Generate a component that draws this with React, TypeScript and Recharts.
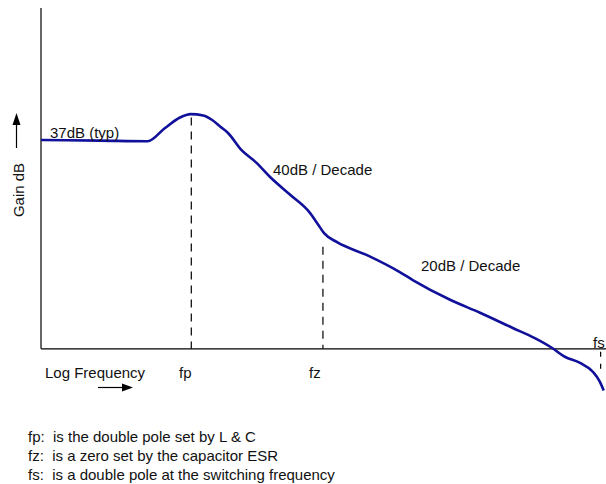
import React from 'react';
import { LineChart, Line, XAxis, YAxis, ReferenceLine } from 'recharts';

// log frequency position (0..100 across the axis) and gain in dB
const logFreq = [0, 10.4, 18.9, 21.9, 24.6, 26.5, 28.7, 30.3, 31.7, 33.1, 35.5, 38.1, 40.5, 44.1, 47.6, 49.0, 50.1, 52.4, 57.7, 63.5, 65.8, 72.4, 77.7, 83.5, 87.4, 90.4, 92.7, 95.4, 97.7, 98.9, 99.6];
const gainDb = [37.0, 36.9, 36.8, 39.1, 41.0, 41.6, 41.35, 40.55, 39.4, 38.25, 35.2, 33.0, 30.5, 27.3, 24.1, 22.1, 20.5, 18.9, 16.6, 13.6, 12.2, 8.7, 6.4, 3.7, 1.9, 0.2, -1.4, -2.5, -4.1, -5.8, -7.4];

// break points marked on the frequency axis
const fpPos = 26.6;
const fpGain = 41.0;
const fzPos = 49.9;
const fzGain = 18.1;
const fsPos = 99.05;

const footnotes = [
  'fp:  is the double pole set by L & C',
  'fz:  is a zero set by the capacitor ESR',
  'fs:  is a double pole at the switching frequency',
];

const data = logFreq.map((f, i) => ({ f, gain: gainDb[i] }));

const FONT = '"Liberation Sans", Arial, sans-serif';
const CURVE = '#10109a';

export default function App() {
  return (
    <div style={{ position: 'absolute', left: 0, top: 0, width: 606, height: 484, background: '#fff' }}>
      <LineChart width={606} height={484} data={data} margin={{ top: 8, right: 0, bottom: 90, left: 41 }}>
        <XAxis type="number" dataKey="f" domain={[0, 100]} hide />
        <YAxis type="number" domain={[-8, 60.4]} hide />
        <ReferenceLine segment={[{ x: 0, y: 60.4 }, { x: 0, y: 0 }]} stroke="#000" strokeWidth={1.2} />
        <ReferenceLine y={0} stroke="#000" strokeWidth={1.2} />
        <ReferenceLine segment={[{ x: fpPos, y: fpGain }, { x: fpPos, y: 0 }]} stroke="#000" strokeDasharray="8 6" strokeWidth={1.2} />
        <ReferenceLine segment={[{ x: fzPos, y: fzGain }, { x: fzPos, y: 0 }]} stroke="#000" strokeDasharray="8 6" strokeWidth={1.2} />
        <ReferenceLine segment={[{ x: fsPos, y: -0.5 }, { x: fsPos, y: -3.8 }]} stroke="#000" strokeDasharray="5 7" strokeWidth={1.2} />
        <Line
          type="monotone"
          dataKey="gain"
          stroke={CURVE}
          strokeWidth={2.6}
          dot={false}
          activeDot={false}
          isAnimationActive={false}
        />
      </LineChart>
      <svg width={606} height={484} style={{ position: 'absolute', left: 0, top: 0, pointerEvents: 'none' }}>
        <g fontFamily={FONT} fontSize={15} fill="#111">
          <text x={50} y={138}>37dB (typ)</text>
          <text x={273} y={175}>40dB / Decade</text>
          <text x={421} y={271}>20dB / Decade</text>
          <text transform="translate(24,190) rotate(-90)" textAnchor="middle">Gain dB</text>
          <text x={45} y={378}>Log Frequency</text>
          <text x={179} y={378}>fp</text>
          <text x={309} y={378}>fz</text>
          <text x={593} y={348}>fs</text>
          {footnotes.map((t, i) => (
            <text key={t} x={28} y={442 + i * 19} style={{ whiteSpace: 'pre' }}>{t}</text>
          ))}
        </g>
        <line x1={16.5} y1={148} x2={16.5} y2={124} stroke="#000" strokeWidth={1.2} />
        <polygon points="16.5,113 12.5,125 20.5,125" fill="#000" />
        <line x1={98} y1={387.5} x2={123} y2={387.5} stroke="#000" strokeWidth={1.2} />
        <polygon points="133,387.5 122,383.5 122,391.5" fill="#000" />
      </svg>
    </div>
  );
}
